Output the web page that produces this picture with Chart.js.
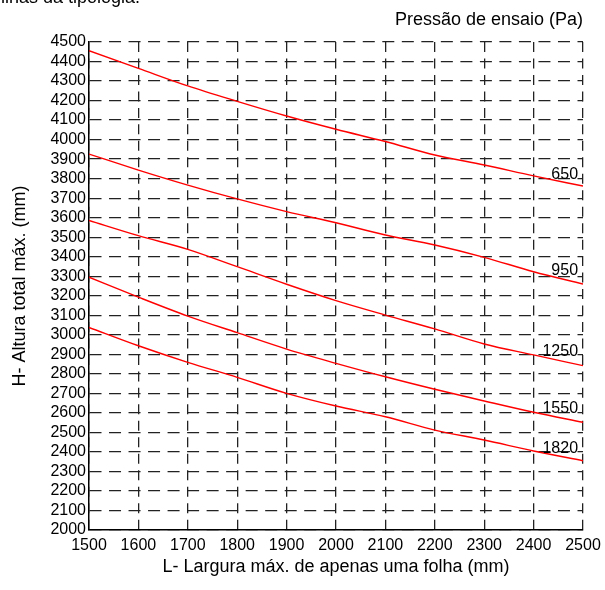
<!DOCTYPE html>
<html>
<head>
<meta charset="utf-8">
<script src="https://cdn.jsdelivr.net/npm/chart.js@4/dist/chart.umd.min.js"></script>
<style>
  html, body { margin: 0; padding: 0; background: #fff; overflow: hidden; }
  #wrap { position: relative; width: 605px; height: 590px; }
  #topnote { position: absolute; left: -24px; top: -12px; font: 18px "Liberation Sans", Arial, sans-serif; line-height: 18px; color: #000; white-space: nowrap; }
</style>
</head>
<body>
<div id="wrap">
  <div id="topnote">lâminas da tipologia.</div>
  <canvas id="chart" width="605" height="590"></canvas>
</div>
<script>
// largura (mm)
const larguras = [1500, 1600, 1700, 1800, 1900, 2000, 2100, 2200, 2300, 2400, 2500]

// altura máx. (mm) por pressão de ensaio
const p650  = [4455, 4365, 4275, 4196, 4121, 4053, 3990, 3921, 3870, 3814, 3762]
const p950  = [3926, 3844, 3767, 3696, 3631, 3574, 3511, 3460, 3397, 3323, 3260]
const p1250 = [3586, 3508, 3438, 3349, 3259, 3175, 3101, 3030, 2953, 2897, 2842]
const p1550 = [3295, 3193, 3096, 3011, 2927, 2854, 2785, 2721, 2661, 2603, 2552]
const p1820 = [3038, 2944, 2859, 2782, 2700, 2635, 2580, 2512, 2461, 2405, 2355]

const pressoes = ['650', '950', '1250', '1550', '1820']
const series = [p650, p950, p1250, p1550, p1820]
// where each pressure label sits (data units)
const labelX = [2490, 2490, 2490, 2490, 2490]
const labelY = [3820, 3327, 2912, 2620, 2415]

const FONT = '"Liberation Sans", Arial, sans-serif'

const curveLabels = {
  id: 'curveLabels',
  afterDatasetsDraw(chart) {
    const ctx = chart.ctx
    const xs = chart.scales.x, ys = chart.scales.y
    ctx.save()
    ctx.font = '16px ' + FONT
    ctx.fillStyle = '#000'
    ctx.textAlign = 'right'
    ctx.textBaseline = 'middle'
    pressoes.forEach((p, i) => {
      ctx.fillText(p, xs.getPixelForValue(labelX[i]), ys.getPixelForValue(labelY[i]))
    })
    ctx.restore()
  }
}

const plain = (v) => String(v)

const cfg = {
  type: 'line',
  data: {
    datasets: series.map((s, i) => ({
      label: pressoes[i],
      data: larguras.map((x, j) => ({ x: x, y: s[j] })),
      borderColor: '#ff0000',
      borderWidth: 1.4,
      pointRadius: 0,
      cubicInterpolationMode: 'monotone',
      fill: false,
    })),
  },
  options: {
    responsive: false,
    animation: false,
    layout: { padding: { left: 0, right: 22, top: 0, bottom: 0 } },
    plugins: {
      legend: { display: false },
      tooltip: { enabled: false },
      title: {
        display: true,
        text: 'Pressão de ensaio (Pa)',
        align: 'end',
        color: '#000',
        font: { family: FONT, size: 18, weight: 'normal' },
        padding: { top: 9, bottom: 11.4 },
      },
    },
    scales: {
      x: {
        type: 'linear',
        min: 1500,
        max: 2500,
        afterFit: (s) => { s.height = 60; s.paddingLeft = 0; s.paddingRight = 0 },
        ticks: { stepSize: 100, color: '#000', padding: 6, maxRotation: 0, autoSkip: false,
          callback: plain, font: { family: FONT, size: 16 } },
        grid: { color: '#222', lineWidth: 1.3, drawTicks: false },
        border: { display: true, color: '#000', width: 1.5, dash: [10, 6.47] },
        title: {
          display: true,
          text: 'L- Largura máx. de apenas uma folha (mm)',
          color: '#000',
          font: { family: FONT, size: 18 },
          padding: { top: 0, bottom: 12 },
        },
      },
      y: {
        type: 'linear',
        min: 2000,
        max: 4500,
        afterFit: (s) => { s.width = 89; s.paddingTop = 0; s.paddingBottom = 0 },
        ticks: { stepSize: 100, color: '#000', padding: 3, autoSkip: false,
          callback: plain, font: { family: FONT, size: 16 } },
        grid: { color: '#222', lineWidth: 1.3, drawTicks: false },
        border: { display: true, color: '#000', width: 1.5, dash: [12, 7.52] },
        title: {
          display: true,
          text: 'H- Altura total máx. (mm)',
          color: '#000',
          font: { family: FONT, size: 18 },
          padding: { top: 9, bottom: 0 },
        },
      },
    },
  },
  plugins: [curveLabels],
}

window.myChart = new Chart(document.getElementById('chart'), cfg)
</script>
</body>
</html>
